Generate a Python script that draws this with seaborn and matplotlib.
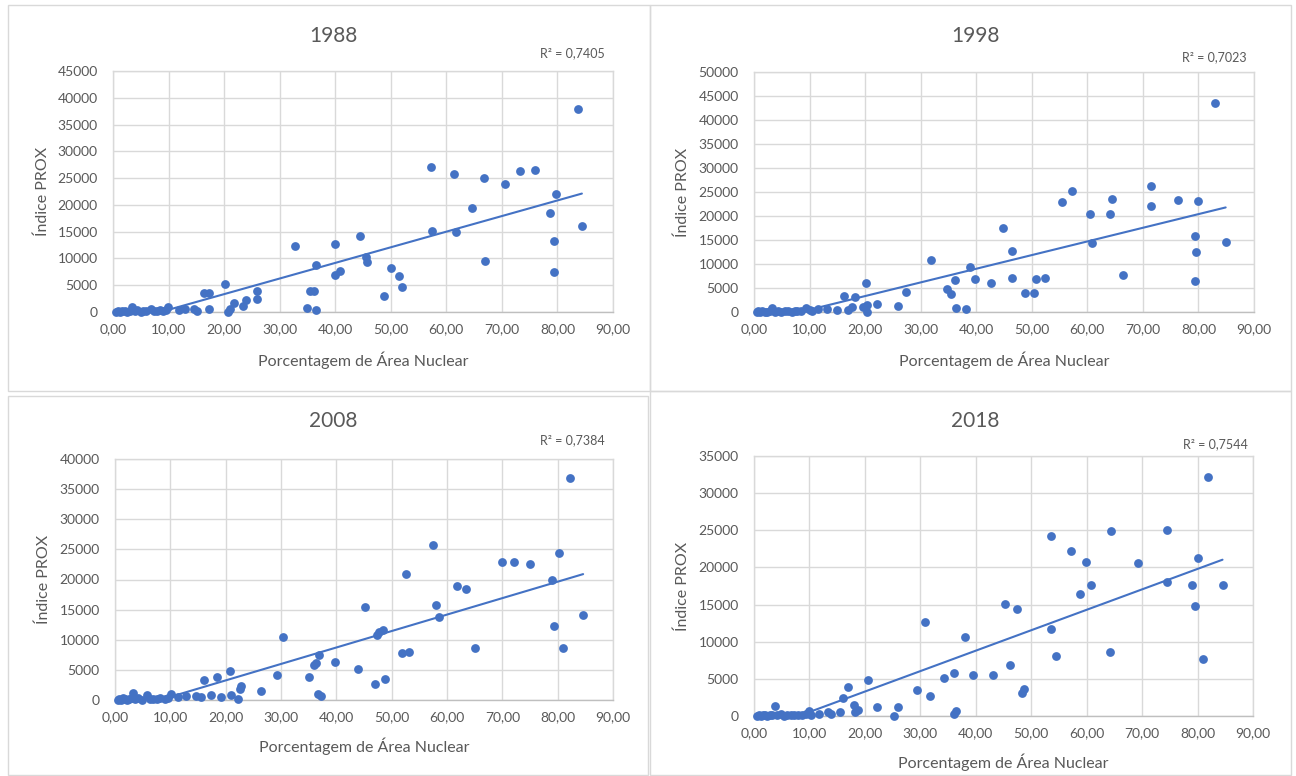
import matplotlib
matplotlib.use('Agg')
import matplotlib.pyplot as plt
import seaborn as sns
import pandas as pd
from matplotlib.patches import Rectangle
from matplotlib.ticker import FuncFormatter, MultipleLocator

# values, one pair of lists per year
x_1988 = [0.6, 0.9, 1.3, 1.7, 2.1, 2.5, 3.0, 3.4, 3.9, 4.4, 5.0, 5.4, 6.0, 6.8, 7.3, 7.9, 8.4, 9.0, 9.6, 9.9,
          11.9, 13.0, 14.5, 15.1, 16.4, 17.2, 17.2, 20.1, 20.7, 21.0, 21.8, 23.4, 23.9, 25.9, 25.9,
          32.8, 34.9, 35.5, 36.2, 36.6, 36.6, 40.0, 40.0, 40.8, 44.5, 45.5, 45.7, 48.7, 50.1, 51.5, 52.0,
          57.3, 57.5, 61.3, 61.7, 64.6, 66.8, 67.0, 70.6, 73.3, 75.9, 78.6, 79.3, 79.3, 79.8, 83.7, 84.4]
y_1988 = [0, 150, 50, 250, 100, 0, 200, 870, 100, 300, 50, 190, 150, 560, 100, 250, 440, 200, 370, 930,
          310, 500, 500, 190, 3490, 3490, 620, 5230, 0, 620, 1740, 1120, 2300, 3920, 2430,
          12270, 680, 3920, 3920, 8720, 370, 12700, 6970, 7660, 14200, 10210, 9400, 2930, 8220, 6660, 4670,
          27090, 15190, 25720, 15010, 19490, 24970, 9470, 23970, 26280, 26530, 18490, 13200, 7470, 22040, 37990, 16000]

x_1998 = [0.5, 0.8, 1.1, 1.5, 1.9, 2.3, 2.8, 3.3, 3.8, 4.3, 4.9, 5.5, 6.2, 6.8, 7.3, 7.8, 8.5, 9.3, 10.0, 10.5,
          11.6, 13.1, 14.9, 16.2, 16.9, 17.7, 18.2, 19.6, 20.1, 20.3, 20.3, 22.1, 25.9, 27.4,
          31.8, 34.8, 35.4, 36.2, 36.3, 38.1, 38.8, 39.8, 42.7, 44.8, 46.5, 46.5, 48.7, 50.4, 50.8, 52.3,
          55.5, 57.2, 60.4, 60.8, 64.1, 64.5, 66.4, 71.5, 71.5, 76.3, 79.3, 79.3, 79.5, 79.9, 82.9, 84.9]
y_1998 = [0, 150, 50, 250, 100, 0, 200, 830, 100, 300, 50, 150, 210, 100, 250, 210, 150, 830, 350, 200,
          560, 560, 350, 3340, 490, 1040, 3060, 1040, 6120, 1530, 0, 1600, 1320, 4170,
          10850, 4730, 3820, 6680, 830, 560, 9460, 6880, 6120, 17590, 12800, 7160, 3890, 3890, 6880, 7160,
          22880, 25170, 20380, 14460, 20380, 23500, 7790, 26290, 22040, 23430, 15860, 6400, 12520, 23160, 43600, 14530]

x_2008 = [0.5, 0.8, 1.1, 1.4, 1.8, 2.2, 2.6, 3.0, 3.3, 3.7, 4.2, 4.8, 5.7, 6.3, 6.9, 7.5, 8.2, 9.0, 9.6, 10.1,
          11.3, 12.8, 14.6, 15.5, 16.0, 17.4, 18.4, 19.2, 20.7, 20.9, 22.3, 22.5, 22.8, 26.3, 29.2,
          30.3, 35.0, 35.9, 36.3, 36.6, 36.9, 37.2, 39.8, 43.9, 45.1, 46.9, 47.4, 47.7, 48.5, 48.8,
          51.9, 53.2, 52.6, 57.5, 58.0, 58.5, 61.8, 63.4, 65.1, 69.9, 72.1, 75.0, 78.9, 79.3, 80.3, 81.0, 82.3, 84.6]
y_2008 = [0, 150, 50, 250, 100, 0, 200, 300, 1220, 100, 300, 50, 830, 150, 170, 100, 250, 200, 350, 1050,
          440, 720, 660, 440, 3320, 880, 3870, 500, 4860, 880, 170, 1770, 2380, 1550, 4200,
          10440, 3760, 5800, 6080, 940, 7510, 720, 6240, 5140, 15360, 2710, 10770, 11220, 11600, 3540,
          7740, 7960, 20940, 25800, 15800, 13810, 18950, 18450, 8670, 22870, 22870, 22650, 20000, 12270, 24480, 8670, 36900, 14030]

x_2018 = [0.6, 0.9, 1.2, 1.6, 2.0, 2.4, 2.9, 3.3, 3.7, 4.2, 4.8, 5.4, 6.0, 6.7, 7.3, 8.0, 8.7, 9.3, 9.9, 10.2,
          11.7, 13.3, 13.8, 15.6, 16.0, 17.0, 18.0, 18.2, 18.7, 20.6, 22.1, 25.3, 26.0, 29.4,
          30.8, 31.7, 34.2, 36.1, 36.1, 36.4, 38.1, 39.5, 43.1, 45.3, 46.1, 47.5, 48.4, 48.7,
          53.6, 53.6, 54.5, 57.2, 58.8, 59.8, 60.8, 64.2, 64.4, 69.3, 74.4, 74.5, 79.0, 79.5, 80.0, 80.9, 81.8, 84.5]
y_2018 = [0, 150, 50, 200, 100, 0, 150, 100, 1390, 100, 250, 50, 150, 100, 200, 100, 150, 250, 720, 180,
          310, 540, 310, 540, 2470, 3910, 1440, 540, 850, 4810, 1210, 0, 1210, 3550,
          12620, 2700, 5170, 5750, 310, 670, 10600, 5530, 5530, 15140, 6830, 14420, 3140, 3590,
          24170, 11720, 8090, 22190, 16400, 20750, 17700, 8620, 24890, 20570, 25070, 18060, 17700, 14780, 21290, 7730, 32120, 17700]

years = ['1988', '1998', '2008', '2018']
r2_labels = ['R² = 0,7405', 'R² = 0,7023', 'R² = 0,7384', 'R² = 0,7544']
y_max = [45000, 50000, 40000, 35000]
series = [(x_1988, y_1988), (x_1998, y_1998), (x_2008, y_2008), (x_2018, y_2018)]

sns.set_theme(style="whitegrid")
plt.rcParams['font.family'] = ['Lato', 'DejaVu Sans']

W, H = 1296, 776
blue = '#4472C4'
grey_txt = '#595959'
grid_c = '#d9d9d9'

fig = plt.figure(figsize=(W / 100, H / 100), dpi=100)
fig.patch.set_facecolor('white')


def fx(px):
    return px / W


def fy(py):
    return 1 - py / H


# plot areas in pixels: left, top, right, bottom
boxes = [(113, 71, 613, 312), (754, 72, 1254, 312), (115, 459, 613, 700), (754, 456, 1253, 716)]
frames = [(8, 5, 650, 391), (650, 5, 1291, 391), (8, 396, 648, 775), (650, 391, 1291, 775)]
title_pos = [(333, 36), (975, 36), (333, 421), (975, 421)]
r2_pos = [(605, 53), (1247, 57), (605, 440), (1248, 444)]
xlab_y = [360, 360, 746, 762]
ylab_x = [43, 683, 44, 683]

for i, (xs, ys) in enumerate(series):
    l, t, r, b = boxes[i]
    ax = fig.add_axes([fx(l), fy(b), fx(r - l), (b - t) / H])
    df = pd.DataFrame({'area': xs, 'prox': ys})
    sns.regplot(data=df, x='area', y='prox', ax=ax, ci=None, truncate=True,
                scatter_kws=dict(s=40, color=blue, alpha=1, linewidths=0, zorder=3, clip_on=False),
                line_kws=dict(color=blue, lw=1.5, zorder=2))
    ax.set_xlim(0, 90)
    ax.set_ylim(0, y_max[i])
    ax.xaxis.set_major_locator(MultipleLocator(10))
    ax.yaxis.set_major_locator(MultipleLocator(5000))
    ax.xaxis.set_major_formatter(FuncFormatter(lambda v, p: f'{v:.2f}'.replace('.', ',')))
    ax.yaxis.set_major_formatter(FuncFormatter(lambda v, p: f'{int(v)}'))
    ax.grid(True, color=grid_c, lw=1)
    for s in ax.spines.values():
        s.set_color(grid_c)
        s.set_linewidth(1)
    ax.spines['bottom'].set_color('#bfbfbf')
    ax.tick_params(axis='both', length=0, labelsize=10, labelcolor=grey_txt)
    ax.tick_params(axis='y', pad=11)
    ax.tick_params(axis='x', pad=8)
    ax.set_xlabel('Porcentagem de Área Nuclear', fontsize=11.5, color=grey_txt, va='center')
    ax.set_ylabel('Índice PROX', fontsize=11.5, color=grey_txt, va='center')
    ax.xaxis.set_label_coords(fx((l + r) / 2), fy(xlab_y[i]), transform=fig.transFigure)
    ax.yaxis.set_label_coords(fx(ylab_x[i]), fy((t + b) / 2), transform=fig.transFigure)

    fig.text(fx(title_pos[i][0]), fy(title_pos[i][1]), years[i], fontsize=15,
             color=grey_txt, ha='center', va='center')
    fig.text(fx(r2_pos[i][0]), fy(r2_pos[i][1]), r2_labels[i], fontsize=9,
             color=grey_txt, ha='right', va='center')

    fl, ft, fr, fb = frames[i]
    fig.add_artist(Rectangle((fx(fl), fy(fb)), fx(fr - fl), (fb - ft) / H,
                             transform=fig.transFigure, fill=False,
                             edgecolor=grid_c, lw=1))

fig.savefig('out.png', dpi=100, facecolor='white')
